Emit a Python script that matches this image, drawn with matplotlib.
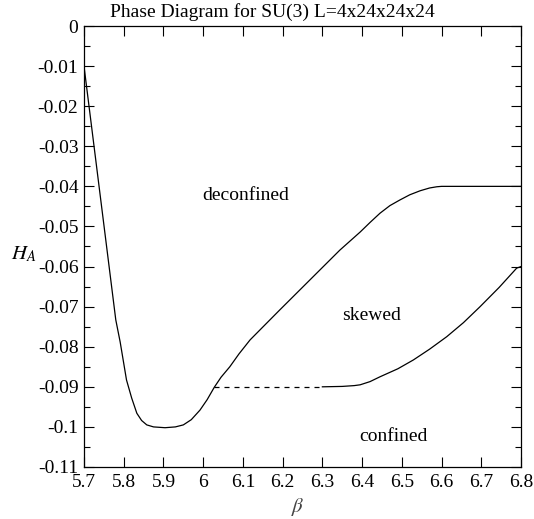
import matplotlib
matplotlib.use("Agg")
import matplotlib.pyplot as plt
from matplotlib.ticker import MultipleLocator

plt.rcParams["font.family"] = ["Liberation Serif", "DejaVu Serif"]
plt.rcParams["mathtext.fontset"] = "stix"

# boundary between deconfined and the rest
upper_beta = [5.70, 5.78, 5.791, 5.807, 5.82, 5.833, 5.845, 5.858, 5.875,
              5.904, 5.93, 5.95, 5.97, 5.992, 6.01, 6.028, 6.045, 6.067,
              6.09, 6.118, 6.143, 6.193, 6.344, 6.395, 6.42, 6.445, 6.47,
              6.495, 6.52, 6.546, 6.57, 6.588, 6.60, 6.80]
upper_h = [-0.0100, -0.0733, -0.0788, -0.0883, -0.0928, -0.0966, -0.0984,
           -0.0995, -0.1000, -0.1002, -0.1000, -0.0995, -0.0982, -0.0958,
           -0.0932, -0.0901, -0.0876, -0.0850, -0.0818, -0.0783, -0.0758,
           -0.0708, -0.0559, -0.0514, -0.0490, -0.0467, -0.0448, -0.0434,
           -0.0421, -0.0411, -0.0404, -0.0401, -0.0400, -0.0400]

# skewed / confined boundary
lower_beta = [6.30, 6.35, 6.38, 6.395, 6.42, 6.445, 6.49, 6.529, 6.57,
              6.613, 6.655, 6.697, 6.745, 6.789, 6.80]
lower_h = [-0.0900, -0.0899, -0.0897, -0.0895, -0.0887, -0.0875, -0.0855,
           -0.0833, -0.0806, -0.0775, -0.0740, -0.0700, -0.0652, -0.0604,
           -0.0600]

# first order part (dashed)
dash_beta = [6.028, 6.30]
dash_h = [-0.090, -0.090]

regions = ["deconfined", "skewed", "confined"]
region_beta = [6.106, 6.425, 6.478]
region_h = [-0.0424, -0.0723, -0.1025]

fig = plt.figure(figsize=(5.34, 5.19), dpi=100)
ax = fig.add_axes([0.1573, 0.1002, 0.8184, 0.8497])

ax.plot(upper_beta, upper_h, color="black", linewidth=0.9)
ax.plot(lower_beta, lower_h, color="black", linewidth=0.9)
ax.plot(dash_beta, dash_h, color="black", linewidth=0.9, linestyle=(0, (4, 4)))

for name, b, h in zip(regions, region_beta, region_h):
    ax.text(b, h, name, ha="center", va="center", fontsize=14)

ax.set_xlim(5.7, 6.8)
ax.set_ylim(-0.11, 0)
ax.xaxis.set_major_locator(MultipleLocator(0.1))
ax.yaxis.set_major_locator(MultipleLocator(0.01))
ax.yaxis.set_minor_locator(MultipleLocator(0.005))
ax.set_xticklabels([f"{v:g}" for v in ax.get_xticks()])
ax.set_yticklabels([f"{v:g}" if abs(v) > 1e-9 else "0" for v in ax.get_yticks()])

ax.tick_params(which="both", direction="in", top=True, right=True, labelsize=14)
ax.tick_params(which="major", length=7, width=0.8)
ax.tick_params(which="minor", length=4, width=0.8)
ax.tick_params(axis="y", pad=4)
ax.tick_params(axis="x", pad=5)
for s in ax.spines.values():
    s.set_linewidth(0.9)

fig.text(0.51, 0.977, "Phase Diagram for SU(3) L=4x24x24x24",
         ha="center", va="center", fontsize=14)
ax.set_xlabel(r"$\beta$", fontsize=15, color="#444444", va="center")
ax.set_ylabel(r"$H_A$", fontsize=15, rotation=0, va="center", ha="center")
ax.xaxis.set_label_coords(0.49, -0.091)
ax.yaxis.set_label_coords(-0.137, 0.481)

fig.savefig("out.png", dpi=100)
